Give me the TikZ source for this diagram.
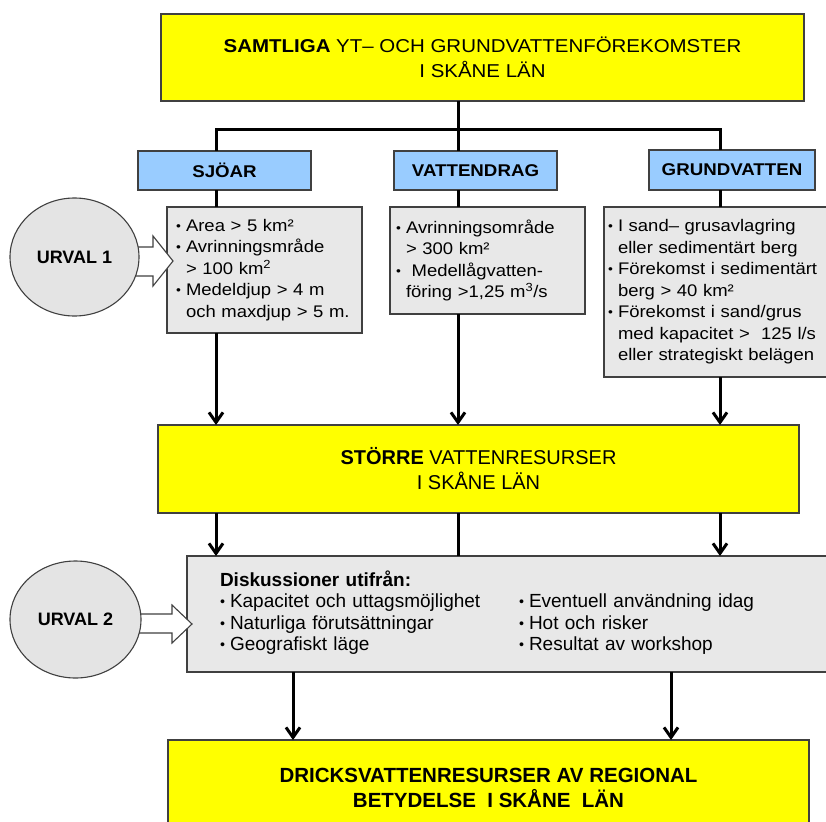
\documentclass[tikz,border=0pt]{standalone}
\usepackage{fontspec}
\setmainfont{Liberation Sans}
\newfontfamily\wide[FakeStretch=1.1]{Liberation Sans}
\usetikzlibrary{arrows.meta,shapes.geometric}
\definecolor{boxyellow}{HTML}{FFFF00}
\definecolor{boxblue}{HTML}{99CCFF}
\definecolor{boxgray}{HTML}{E8E8E8}
\definecolor{ellgray}{HTML}{E4E4E4}
\definecolor{edge}{HTML}{404040}
\newcommand\bu{\makebox[10pt][l]{\raisebox{0.1ex}{\scalebox{0.75}{•}}}}
\newcommand\ind{\hspace*{10pt}}
\begin{document}
\begin{tikzpicture}[x=1pt,y=-1pt,
  base/.style={draw=edge,line width=1.1pt,inner sep=0pt,outer sep=0pt},
  ybox/.style={base,fill=boxyellow,align=center},
  hbox/.style={base,fill=boxblue,font=\wide\fontsize{17}{20}\selectfont\bfseries},
  cbox/.style={base,fill=boxgray,align=left,font=\wide\fontsize{16.8}{21.5}\selectfont},
  ubox/.style={base,ellipse,fill=ellgray,font=\fontsize{18}{22}\selectfont\bfseries},
  conn/.style={line width=3pt},
  arr/.style={conn,-{Straight Barb[length=10pt,width=14pt]}},
  blk/.style={draw=edge,line width=1.1pt,fill=white,line join=miter}
]
\useasboundingbox (0,0) rectangle (826,821);
\fill[white] (0,0) rectangle (826,821);

% columns
\coordinate (k1) at (216,0);
\coordinate (k2) at (458,0);
\coordinate (k3) at (720,0);
\coordinate (m1) at (293,0);
\coordinate (m2) at (671,0);
\coordinate (bus) at (0,130);

% boxes
\node[ybox,minimum width=643,minimum height=87,font=\wide\fontsize{18.6}{25}\selectfont] (top) at (482.5,57.5)
  {\textbf{SAMTLIGA} YT– OCH GRUNDVATTENFÖREKOMSTER\\I SKÅNE LÄN};

\node[hbox,minimum width=173,minimum height=39] (sjo) at (224.5,170.5) {SJÖAR};
\node[hbox,minimum width=163,minimum height=39] (vat) at (475.5,170.5) {VATTENDRAG};
\node[hbox,minimum width=166,minimum height=40] (gru) at (732,170) {GRUNDVATTEN};

\node[cbox,text width=177pt,inner xsep=9pt,minimum height=126] (c1box) at (264.5,270)
  {\bu Area > 5 km²\\
   \bu Avrinningsmråde\\
   \ind > 100 km\textsuperscript{2}\\
   \bu Medeldjup > 4 m\\
   \ind och maxdjup > 5 m.};
\node[cbox,text width=183pt,inner xsep=6pt,minimum height=107] (c2box) at (487.5,260.5)
  {\bu Avrinningsområde\\
   \ind > 300 km²\\
   \bu\ Medellågvatten-\\
   \ind föring >1,25 m\textsuperscript{3}/s};
\node[cbox,text width=230pt,inner xsep=4pt,minimum height=170] (c3box) at (723,292)
  {\bu I sand– grusavlagring\\
   \ind eller sedimentärt berg\\
   \bu Förekomst i sedimentärt\\
   \ind berg > 40 km²\\
   \bu Förekomst i sand/grus\\
   \ind med kapacitet >\ \ 125 l/s\\
   \ind eller strategiskt belägen};

\node[ybox,minimum width=641,minimum height=88,font=\fontsize{20}{25}\selectfont] (sto) at (478.5,469)
  {\textbf{STÖRRE} VATTENRESURSER\\I SKÅNE LÄN};

\node[base,fill=boxgray,text width=589pt,inner xsep=33pt,minimum height=116,align=left,
      font=\fontsize{19}{21.3}\selectfont] (disc) at (514.5,614)
  {\begin{tabular}{@{}p{299pt}@{}l@{}}
   \multicolumn{2}{@{}l@{}}{\textbf{Diskussioner utifrån:}}\\
   \bu Kapacitet och uttagsmöjlighet & \bu Eventuell användning idag\\
   \bu Naturliga förutsättningar & \bu Hot och risker\\
   \bu Geografiskt läge & \bu Resultat av workshop
   \end{tabular}};

\node[ybox,minimum width=641,minimum height=95,font=\fontsize{20.5}{25}\selectfont\bfseries] (bot) at (488.5,787.5)
  {DRICKSVATTENRESURSER AV REGIONAL\\BETYDELSE\ \ I SKÅNE\ \ LÄN};

% block arrows
\draw[blk] (130,247) -- (153,247) -- (153,236) -- (173,261) -- (153,286) -- (153,276) -- (130,276) -- cycle;
\draw[blk] (130,614) -- (172,614) -- (172,605) -- (192,624) -- (172,643) -- (172,633) -- (130,633) -- cycle;

% ellipses
\node[ubox,minimum width=129,minimum height=118] (u1) at (74.5,257) {URVAL 1};
\node[ubox,minimum width=131,minimum height=117] (u2) at (75.5,619.5) {URVAL 2};

% connectors
\draw[conn] (top.south -| k2) -- (vat.north -| k2);
\draw[conn] (sjo.north -| k1) -- (k1 |- bus) -- (k3 |- bus) -- (gru.north -| k3);
\draw[conn] (sjo.south -| k1) -- (c1box.north -| k1);
\draw[conn] (vat.south -| k2) -- (c2box.north -| k2);
\draw[conn] (gru.south -| k3) -- (c3box.north -| k3);
\draw[arr] (c1box.south -| k1) -- (sto.north -| k1);
\draw[arr] (c2box.south -| k2) -- (sto.north -| k2);
\draw[arr] (c3box.south -| k3) -- (sto.north -| k3);
\draw[arr] (sto.south -| k1) -- (disc.north -| k1);
\draw[conn] (sto.south -| k2) -- (disc.north -| k2);
\draw[arr] (sto.south -| k3) -- (disc.north -| k3);
\draw[arr] (disc.south -| m1) -- (bot.north -| m1);
\draw[arr] (disc.south -| m2) -- (bot.north -| m2);
\end{tikzpicture}
\end{document}
